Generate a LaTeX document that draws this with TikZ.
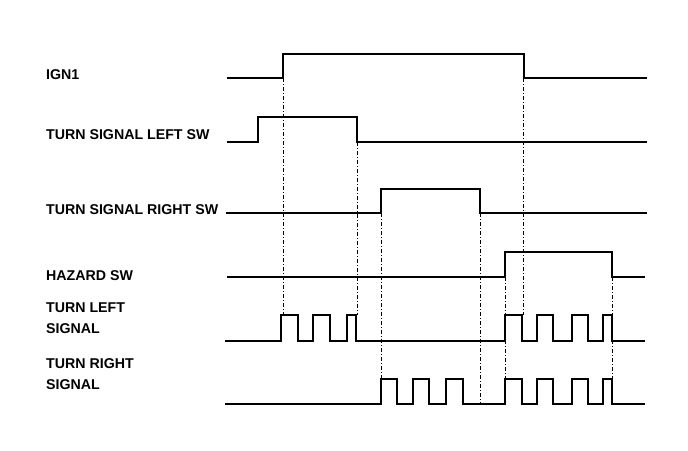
\documentclass[tikz,border=0pt]{standalone}
\usepackage{fontspec}
\setmainfont{Liberation Sans}
\tikzset{
  sig/.style={line width=2.2pt, line join=miter},
  guide/.style={line width=0.6pt, dash pattern=on 4pt off 2pt on 1pt off 2pt},
  lbl/.style={anchor=base west, inner sep=0pt, align=left,
    font=\fontsize{14.2}{21}\selectfont\bfseries}
}
\begin{document}
\begin{tikzpicture}[x=1pt, y=-1pt]
  \useasboundingbox (0,0) rectangle (688,450);
  % Labels
  \node[lbl] (ign) at (46,79) {IGN1};
  \node[lbl] (lsw) at (46,139) {TURN SIGNAL LEFT SW};
  \node[lbl] (rsw) at (46,214) {TURN SIGNAL RIGHT SW};
  \node[lbl] (hsw) at (46,280) {HAZARD SW};
  \node[lbl] (lsig) at (46,333) {TURN LEFT\\SIGNAL};
  \node[lbl] (rsig) at (46,389) {TURN RIGHT\\SIGNAL};
  % Switch waveforms
  \draw[sig] (227,78) -- (283,78) -- (283,54) -- (524,54) -- (524,78) -- (647,78);
  \draw[sig] (227,142) -- (258,142) -- (258,117) -- (357,117) -- (357,142) -- (647,142);
  \draw[sig] (226,213) -- (381,213) -- (381,189) -- (480,189) -- (480,213) -- (647,213);
  \draw[sig] (227,277) -- (505,277) -- (505,252) -- (612,252) -- (612,277) -- (645,277);
  % Flasher outputs
  \draw[sig] (225,341)
    foreach \a/\b in {281/298, 313/330, 347/356, 505/522, 537/553, 572/588, 603/612}
      { -- (\a,341) -- (\a,315) -- (\b,315) -- (\b,341) } -- (645,341);
  \draw[sig] (225,404)
    foreach \a/\b in {381/397, 413/429, 446/463, 505/522, 537/553, 572/588, 603/612}
      { -- (\a,404) -- (\a,379) -- (\b,379) -- (\b,404) } -- (645,404);
  % Timing guides
  \draw[guide] (283,78) -- (283,315);
  \draw[guide] (357,142) -- (357,315);
  \draw[guide] (381,213) -- (381,379);
  \draw[guide] (480,213) -- (480,404);
  \draw[guide] (523,78) -- (523,315);
  \draw[guide] (505,277) -- (505,379);
  \draw[guide] (612,277) -- (612,379);
\end{tikzpicture}
\end{document}
